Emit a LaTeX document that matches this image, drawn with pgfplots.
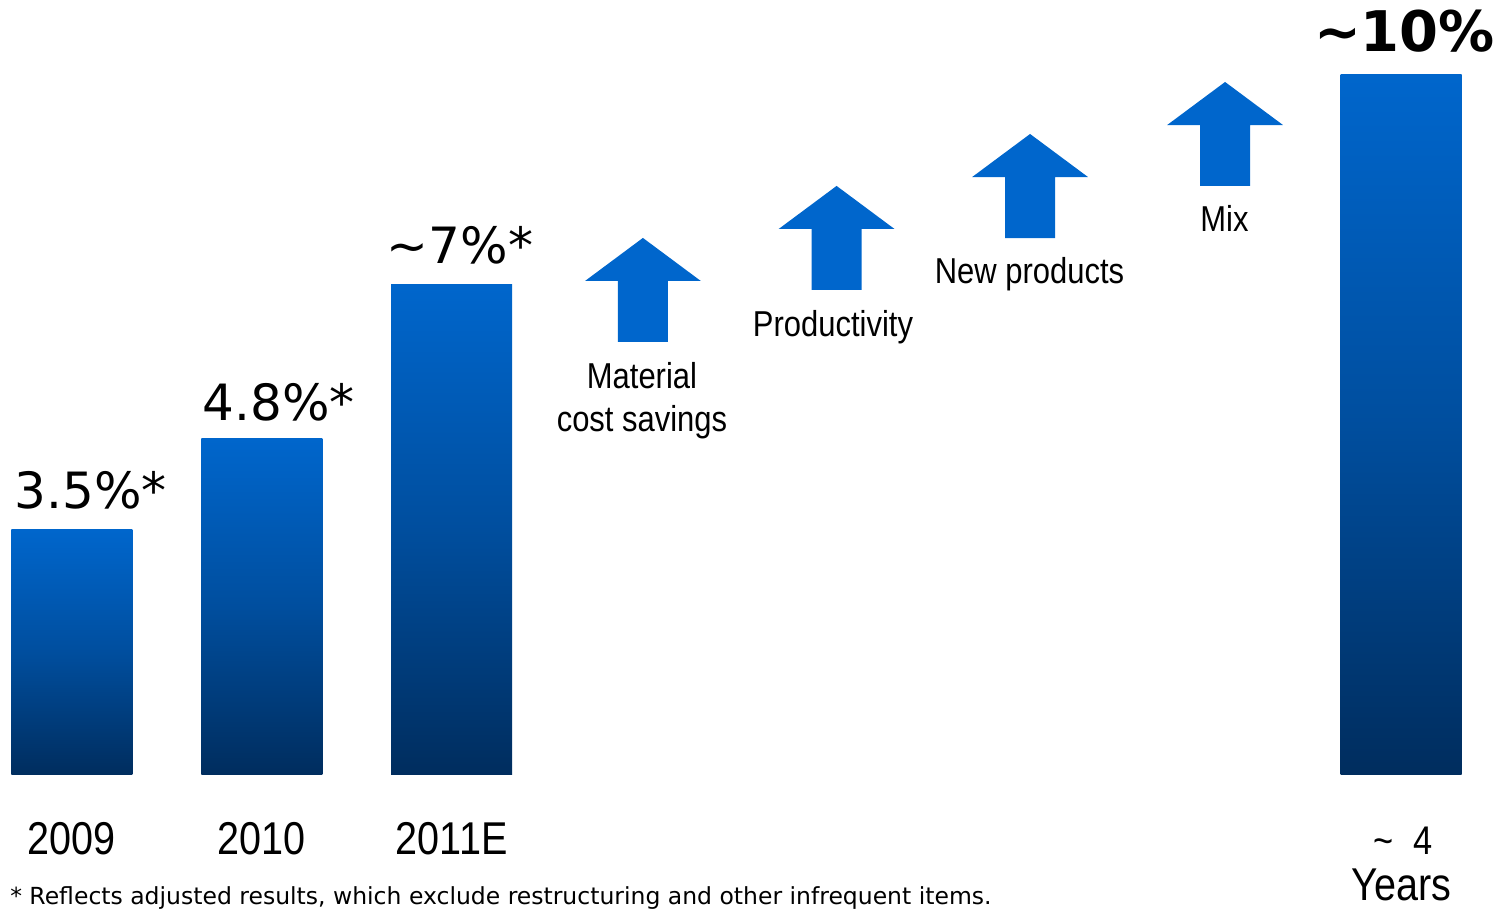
\documentclass[border=0pt]{standalone}
\usepackage{fontspec}
\setmainfont{DejaVu Sans}
\newfontfamily\narrow[FakeStretch=0.86]{Liberation Sans}
\usepackage{pgfplots}
\pgfplotsset{compat=1.18}
\definecolor{arrowblue}{RGB}{0,102,204}
\definecolor{bartop}{RGB}{0,102,204}
\definecolor{barmid}{RGB}{0,78,158}
\definecolor{barbot}{RGB}{0,45,94}
\begin{document}
\begin{tikzpicture}
\useasboundingbox (0,0) rectangle (752pt,455.5pt);
\clip (0,0) rectangle (752pt,455.5pt);
\begin{axis}[
  at={(0,0)}, anchor=south west, scale only axis,
  width=752pt, height=455.5pt,
  xmin=-0.379, xmax=7.542, ymin=-1.943, ymax=11.071,
  hide axis, clip=false,
  every node/.style={inner sep=0pt, outer sep=0pt},
  barstyle/.style={ybar, bar width=0.637, bar shift=0pt, draw=none,
    top color=bartop, bottom color=barbot, middle color=barmid},
]
% bars (one plot each so that each bar gets its own gradient)
\addplot[barstyle] coordinates {(0,3.5)};
\addplot[barstyle] coordinates {(1,4.8)};
\addplot[barstyle] coordinates {(2,7)};
\addplot[barstyle] coordinates {(7,10)};
% arrows
\addplot[fill=arrowblue, draw=none, mark=none] coordinates {
 (2.875,6.186) (3.139,6.186) (3.139,7.057) (3.312,7.057) (3.007,7.672) (2.702,7.057) (2.875,7.057)} -- cycle;
\addplot[fill=arrowblue, draw=none, mark=none] coordinates {
 (3.895,6.929) (4.159,6.929) (4.159,7.800) (4.332,7.800) (4.027,8.415) (3.722,7.800) (3.895,7.800)} -- cycle;
\addplot[fill=arrowblue, draw=none, mark=none] coordinates {
 (4.914,7.671) (5.178,7.671) (5.178,8.542) (5.351,8.542) (5.046,9.157) (4.741,8.542) (4.914,8.542)} -- cycle;
\addplot[fill=arrowblue, draw=none, mark=none] coordinates {
 (5.941,8.414) (6.205,8.414) (6.205,9.285) (6.378,9.285) (6.073,9.900) (5.768,9.285) (5.941,9.285)} -- cycle;
% value labels
\node[anchor=base, font=\fontsize{25}{30}\selectfont] at (axis cs:0.100,3.814) {3.5\%*};
\node[anchor=base, font=\fontsize{25}{30}\selectfont] at (axis cs:1.088,5.071) {4.8\%*};
\node[anchor=base, font=\fontsize{25}{30}\selectfont] at (axis cs:2.044,7.300) {\textasciitilde7\%*};
\node[anchor=base, font=\bfseries\fontsize{28}{32}\selectfont] at (axis cs:7.018,10.329) {\textasciitilde10\%};
% arrow labels
\node[anchor=base, font=\narrow\fontsize{18}{21.5}\selectfont] at (axis cs:3.002,5.514) {Material};
\node[anchor=base, font=\narrow\fontsize{18}{21.5}\selectfont] at (axis cs:3.002,4.900) {cost savings};
\node[anchor=base, font=\narrow\fontsize{18}{21.5}\selectfont] at (axis cs:4.008,6.271) {Productivity};
\node[anchor=base, font=\narrow\fontsize{18}{21.5}\selectfont] at (axis cs:5.043,7.014) {New products};
\node[anchor=base, font=\narrow\fontsize{18}{21.5}\selectfont] at (axis cs:6.070,7.757) {Mix};
% category labels
\node[anchor=base, font=\narrow\fontsize{23}{27}\selectfont] at (axis cs:0,-1.129) {2009};
\node[anchor=base, font=\narrow\fontsize{23}{27}\selectfont] at (axis cs:1,-1.129) {2010};
\node[anchor=base, font=\narrow\fontsize{23}{27}\selectfont] at (axis cs:2,-1.129) {2011E};
\node[anchor=base, font=\narrow\fontsize{20}{24}\selectfont] at (axis cs:7.01,-1.129) {\textasciitilde\ \ 4};
\node[anchor=base, font=\narrow\fontsize{23}{27}\selectfont] at (axis cs:7,-1.80) {Years};
% footnote
\node[anchor=base west, font=\fontsize{11.75}{13}\selectfont] at (axis cs:-0.362,-1.857) {* Reflects adjusted results, which exclude restructuring and other infrequent items.};
\end{axis}
\end{tikzpicture}
\end{document}
